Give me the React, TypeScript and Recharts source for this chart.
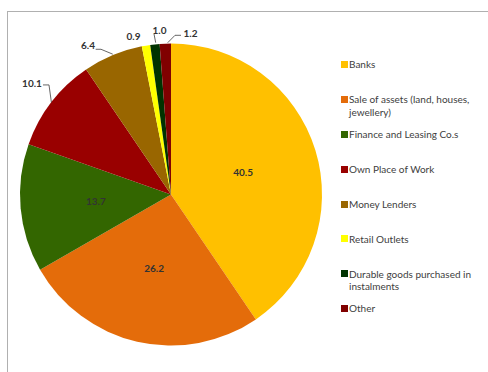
import React from 'react';
import { PieChart, Pie, Cell, Legend } from 'recharts';

const categories = [
  'Banks',
  'Sale of assets (land, houses, jewellery)',
  'Finance and Leasing Co.s',
  'Own Place of Work',
  'Money Lenders',
  'Retail Outlets',
  'Durable goods purchased in instalments',
  'Other',
];
const shares = [40.5, 26.2, 13.7, 10.1, 6.4, 0.9, 1.0, 1.2];
const colors = ['#FFC000', '#E46C0A', '#336600', '#990000', '#996600', '#FFFF00', '#003300', '#800000'];

const data = categories.map((name, i) => ({ name, value: shares[i] }));

// Label placement (offsets from the slice's outer edge at its mid-angle)
type Place = { inside?: boolean; dx?: number; dy?: number; leader?: number[][] };
const labelLayout: Place[] = [
  { inside: true },
  { inside: true },
  { inside: true },
  { dx: -19.4, dy: -18.9, leader: [[0, 0], [-2.4, -17.4], [-8.4, -17.4]] },
  { dx: -24.8, dy: -10.2, leader: [[0, -1], [-11.8, -5.9], [-17.1, -5.9]] },
  { dx: -12.5, dy: -9.9 },
  { dx: 4.6, dy: -14.1, leader: [[0.8, -1.7], [-0.9, -10.4]] },
  { dx: 25.2, dy: -10.9, leader: [[2.4, -0.9], [9.7, -8.3], [15.7, -8.3]] },
];

const RAD = Math.PI / 180;
const FONT = 'Lato, "Open Sans", sans-serif';

const renderLabel = (props: any) => {
  const { cx, cy, midAngle, outerRadius, index, value } = props;
  const c = Math.cos(-midAngle * RAD);
  const s = Math.sin(-midAngle * RAD);
  const place = labelLayout[index];
  const txt = Number(value).toFixed(1);
  const common = {
    fontFamily: FONT,
    fontSize: 10,
    fontWeight: 700,
    fill: '#333333',
    textAnchor: 'middle' as const,
    dominantBaseline: 'central' as const,
  };
  if (place.inside) {
    const r = outerRadius * 0.5;
    return (
      <text key={`l${index}`} x={cx + r * c} y={cy + r * s} {...common}>
        {txt}
      </text>
    );
  }
  const ex = cx + outerRadius * c;
  const ey = cy + outerRadius * s;
  return (
    <g key={`l${index}`}>
      {place.leader && (
        <polyline
          points={place.leader.map(([a, b]) => `${ex + a},${ey + b}`).join(' ')}
          fill="none"
          stroke="#404040"
          strokeWidth={0.8}
        />
      )}
      <text x={ex + (place.dx || 0)} y={ey + (place.dy || 0)} {...common}>
        {txt}
      </text>
    </g>
  );
};

const renderLegend = (props: any) => {
  const payload = props.payload || [];
  const items = categories.map((name, i) => {
    const p = payload.find((e: any) => e.value === name);
    return { name, color: (p && p.color) || colors[i] };
  });
  return (
    <div style={{ fontFamily: FONT, fontSize: 10, color: '#404040', lineHeight: '12.7px' }}>
      {items.map((it) => (
        <div key={it.name} style={{ height: 34.86, display: 'flex', alignItems: 'flex-start' }}>
          <div
            style={{
              width: 7,
              height: 7,
              background: it.color,
              marginTop: 2.85,
              marginRight: 1.5,
              flex: '0 0 auto',
            }}
          />
          <div style={{ width: 136 }}>{it.name}</div>
        </div>
      ))}
    </div>
  );
};

export default function App() {
  return (
    <div
      style={{
        position: 'absolute',
        left: 0,
        top: 0,
        width: 488,
        height: 372,
        overflow: 'hidden',
        background: '#ffffff',
      }}
    >
      <div
        style={{
          position: 'absolute',
          left: 7,
          top: 11,
          width: 500,
          height: 400,
          borderTop: '1px solid #b0b0b0',
          borderLeft: '1px solid #b0b0b0',
        }}
      />
      <div style={{ position: 'absolute', left: 0, top: 0 }}>
        <PieChart width={488} height={372} margin={{ top: 0, right: 0, bottom: 0, left: 0 }}>
          <Pie
            data={data}
            dataKey="value"
            nameKey="name"
            cx={171}
            cy={194.5}
            outerRadius={151}
            startAngle={90}
            endAngle={-270}
            stroke="none"
            label={renderLabel}
            labelLine={false}
            isAnimationActive={false}
          >
            {data.map((d, i) => (
              <Cell key={d.name} fill={colors[i]} />
            ))}
          </Pie>
          <Legend
            layout="vertical"
            align="right"
            verticalAlign="top"
            content={renderLegend}
            wrapperStyle={{ left: 340.5, top: 58.35, width: 146, height: 290 }}
          />
        </PieChart>
      </div>
    </div>
  );
}
